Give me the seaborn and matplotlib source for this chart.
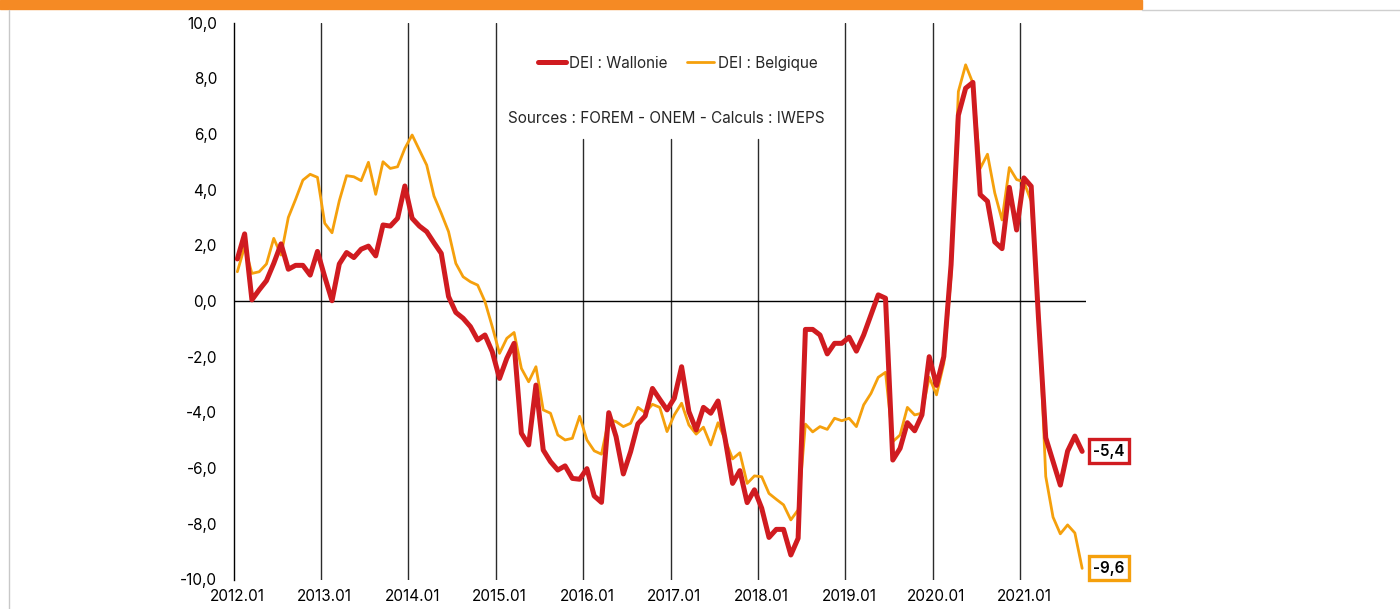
"""
DEI Wallonie vs Belgique - recreation
"""

import numpy as np
import pandas as pd
import matplotlib
matplotlib.use('Agg')
import matplotlib.pyplot as plt
from matplotlib.patches import Rectangle
from matplotlib.lines import Line2D
from matplotlib.ticker import FuncFormatter
import seaborn as sns

# Data, monthly 2012.01 -> 2021.09
mois = pd.period_range('2012-01', periods=117, freq='M').strftime('%Y.%m').tolist()

wallonie = [
    1.51, 2.41, 0.04, 0.40, 0.73, 1.35, 2.05, 1.14, 1.28, 1.28, 0.93, 1.78,
    0.87, 0.01, 1.33, 1.74, 1.56, 1.86, 1.97, 1.62, 2.73, 2.69, 2.97, 4.13,
    2.97, 2.69, 2.49, 2.09, 1.71, 0.16, -0.41, -0.62, -0.92, -1.40, -1.22, -1.82,
    -2.78, -2.06, -1.52, -4.75, -5.17, -3.02, -5.35, -5.77, -6.07, -5.92, -6.37, -6.40,
    -6.02, -7.00, -7.23, -4.01, -4.87, -6.21, -5.41, -4.41, -4.13, -3.14, -3.53, -3.91,
    -3.49, -2.36, -3.97, -4.63, -3.82, -4.03, -3.59, -4.99, -6.55, -6.09, -7.24, -6.78,
    -7.44, -8.49, -8.20, -8.20, -9.12, -8.52, -1.02, -1.02, -1.22, -1.90, -1.52, -1.52,
    -1.30, -1.80, -1.22, -0.50, 0.22, 0.10, -5.71, -5.29, -4.37, -4.66, -4.09, -2.00,
    -3.03, -2.00, 1.30, 6.67, 7.64, 7.85, 3.82, 3.58, 2.12, 1.88, 4.08, 2.55,
    4.42, 4.12, -0.60, -4.91, -5.76, -6.61, -5.39, -4.85, -5.40,
]

belgique = [
    1.05, 1.95, 0.99, 1.05, 1.33, 2.25, 1.65, 3.00, 3.65, 4.34, 4.55, 4.44,
    2.79, 2.45, 3.60, 4.50, 4.46, 4.32, 4.98, 3.83, 5.00, 4.76, 4.82, 5.48,
    5.96, 5.42, 4.88, 3.77, 3.15, 2.49, 1.35, 0.87, 0.69, 0.57, -0.02, -0.92,
    -1.88, -1.34, -1.13, -2.42, -2.90, -2.36, -3.91, -4.03, -4.81, -4.99, -4.93, -4.14,
    -4.99, -5.38, -5.50, -4.25, -4.33, -4.51, -4.39, -3.82, -4.01, -3.71, -3.82, -4.69,
    -4.09, -3.67, -4.45, -4.78, -4.53, -5.17, -4.37, -4.99, -5.67, -5.45, -6.55, -6.28,
    -6.31, -6.91, -7.12, -7.32, -7.86, -7.50, -4.42, -4.70, -4.51, -4.61, -4.21, -4.30,
    -4.21, -4.51, -3.73, -3.32, -2.74, -2.56, -5.05, -4.81, -3.82, -4.09, -4.03, -2.74,
    -3.37, -2.24, 0.90, 7.52, 8.48, 7.82, 4.76, 5.27, 3.88, 2.91, 4.79, 4.36,
    4.28, 3.58, -0.30, -6.30, -7.76, -8.36, -8.04, -8.33, -9.60,
]

series_names = ['DEI : Wallonie', 'DEI : Belgique']
tick_years = ['2012.01', '2013.01', '2014.01', '2015.01', '2016.01',
              '2017.01', '2018.01', '2019.01', '2020.01', '2021.01']
source_text = 'Sources : FOREM - ONEM - Calculs : IWEPS'

RED = '#d01b20'
ORANGE = '#f5a00c'
FS = 11

sns.set_style('white')
plt.rcParams['font.family'] = ['Inter', 'DejaVu Sans']
plt.rcParams['font.size'] = FS

df = pd.DataFrame({
    'mois': mois * 2,
    'pos': list(range(len(mois))) * 2,
    'valeur': wallonie + belgique,
    'serie': [series_names[0]] * len(mois) + [series_names[1]] * len(mois),
})

fig = plt.figure(figsize=(14, 6.09), dpi=100)
ax = fig.add_axes([233.7 / 1400, 1 - 579.5 / 609, 852.1 / 1400, 557 / 609])

# year separators (2016-2018 stop below the source text)
short_years = {'2016.01', '2017.01', '2018.01'}
for lab in tick_years[1:]:
    p = mois.index(lab) - 0.5
    top = 5.8 if lab in short_years else 10
    ax.plot([p, p], [-10, top], color='#2b2b2b', lw=1.0, zorder=1)

ax.axhline(0, color='black', lw=1.0, zorder=2)

sns.lineplot(data=df[df['serie'] == series_names[1]], x='pos', y='valeur',
             color=ORANGE, lw=2.0, ax=ax, zorder=3, legend=False)
sns.lineplot(data=df[df['serie'] == series_names[0]], x='pos', y='valeur',
             color=RED, lw=3.6, ax=ax, zorder=4, legend=False)

ax.set_xlim(-0.5, len(mois) - 0.5)
ax.set_ylim(-10, 10)
ax.set_yticks(np.arange(-10, 10.1, 2))
ax.yaxis.set_major_formatter(FuncFormatter(lambda v, _: f'{v:.1f}'.replace('.', ',')))
ax.set_xticks([mois.index(t) for t in tick_years])
ax.set_xticklabels(tick_years)
ax.tick_params(axis='y', direction='out', length=5, width=1, pad=7, colors='black',
               labelsize=FS)
ax.tick_params(axis='x', length=0, pad=7, labelsize=FS, colors='black')
ax.set_xlabel('')
ax.set_ylabel('')
for s in ['top', 'right', 'bottom']:
    ax.spines[s].set_visible(False)
ax.spines['left'].set_color('black')
ax.spines['left'].set_linewidth(1.0)
ax.grid(False)

# legend
handles = [Line2D([], [], color=RED, lw=3.6), Line2D([], [], color=ORANGE, lw=2.0)]
ax.legend(handles, series_names, loc='center', bbox_to_anchor=(0.521, 0.927),
          ncol=2, frameon=False, fontsize=FS, handlelength=1.8,
          handletextpad=0.2, columnspacing=1.3)

ax.text(0.508, 0.827, source_text, transform=ax.transAxes,
        ha='center', va='center', fontsize=FS)

# end labels
for vals, col in [(wallonie, RED), (belgique, ORANGE)]:
    last = vals[-1]
    ax.annotate(f'{last:.1f}'.replace('.', ','), xy=(len(vals) - 1, last),
                xytext=(8, 0), textcoords='offset points', ha='left', va='center',
                fontsize=FS, fontweight='semibold', color='black',
                bbox=dict(boxstyle='square,pad=0.3', fc='white', ec=col, lw=2.4),
                annotation_clip=False, zorder=6)

# page decorations
fig.patches.append(Rectangle((0, 1 - 9 / 609), 1142 / 1400, 9 / 609,
                             transform=fig.transFigure, color='#f58a24', zorder=0))
fig.lines.append(Line2D([1142 / 1400, 1], [1 - 9.5 / 609, 1 - 9.5 / 609],
                        transform=fig.transFigure, color='#cfcfcf', lw=1))
fig.lines.append(Line2D([9 / 1400, 9 / 1400], [0, 1 - 10 / 609],
                        transform=fig.transFigure, color='#c8c8c8', lw=1))

fig.savefig('out.png', dpi=100)
